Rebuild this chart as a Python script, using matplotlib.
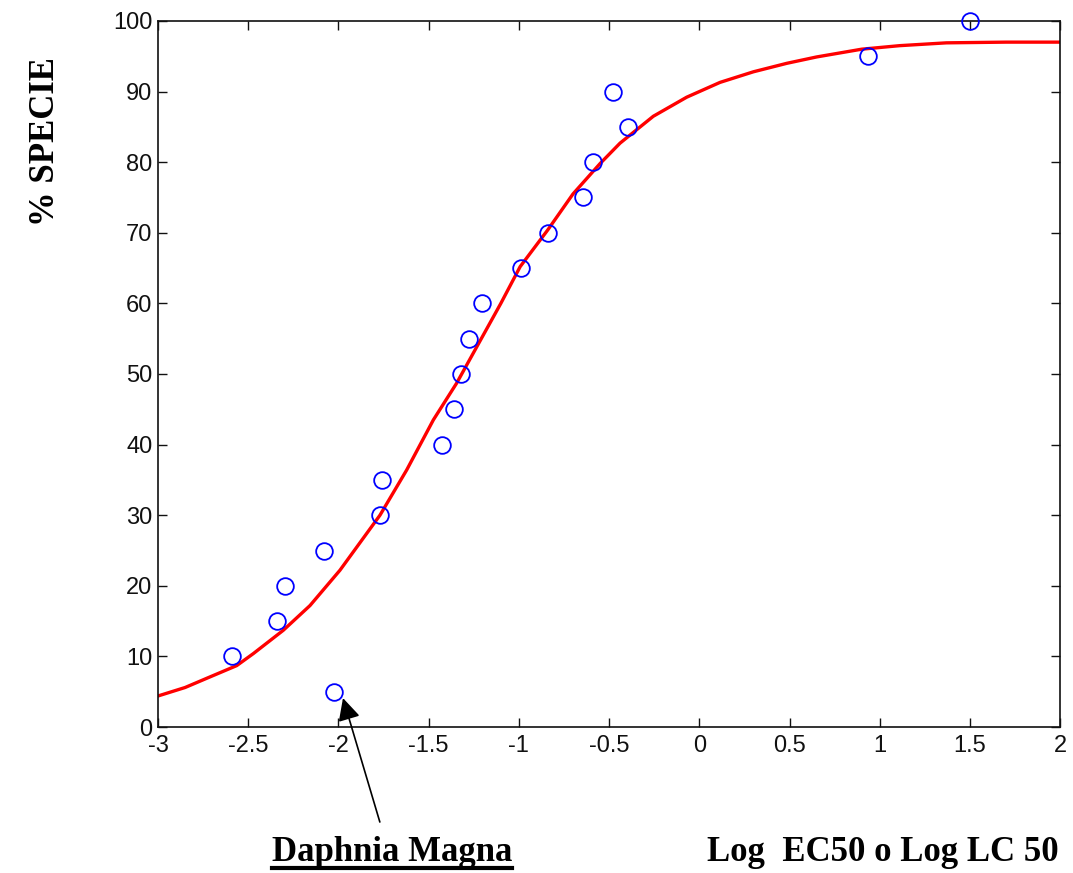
import matplotlib
matplotlib.use('Agg')
import matplotlib.pyplot as plt
import numpy as np

# Dati osservati (log EC50 / LC50 e % specie)
log_ec = [-2.592, -2.023, -2.342, -2.296, -2.08, -1.77, -1.758, -1.427, -1.357,
          -1.322, -1.274, -1.206, -0.988, -0.84, -0.644, -0.587, -0.393, -0.476,
          0.937, 1.501]
perc = [10, 5, 15, 20, 25, 30, 35, 40, 45, 50, 55, 60, 65, 70, 75, 80, 85, 90,
        95, 100]

# Curva adattata
curva_x = [-3.0, -2.85, -2.712, -2.564, -2.472, -2.306, -2.158, -1.992, -1.844,
           -1.77, -1.622, -1.474, -1.345, -1.1, -0.993, -0.84, -0.7, -0.55,
           -0.439, -0.255, -0.07, 0.115, 0.30, 0.485, 0.65, 0.9, 1.11, 1.37,
           1.7, 2.0]
curva_y = [4.4, 5.6, 7.1, 8.7, 10.4, 13.7, 17.2, 22.2, 27.4,
           30.0, 36.4, 43.5, 48.7, 60.0, 65.2, 70.4, 75.5, 79.8,
           82.7, 86.5, 89.2, 91.3, 92.8, 94.0, 94.9, 96.0, 96.5, 96.9,
           97.0, 97.0]

xticks = [-3, -2.5, -2, -1.5, -1, -0.5, 0, 0.5, 1, 1.5, 2]
xtick_labels = ['-3', '-2.5', '-2', '-1.5', '-1', '-0.5', '0', '0.5', '1', '1.5', '2']
yticks = list(range(0, 101, 10))

fig = plt.figure(figsize=(10.73, 8.73), dpi=100)
ax = fig.add_axes([0.1473, 0.1672, 0.8407, 0.8088])

ax.plot(curva_x, curva_y, color='#ff0000', lw=2.4, zorder=2)
ax.plot(log_ec, perc, 'o', mfc='none', mec='#0000ff', ms=12, mew=1.3, zorder=3,
        clip_on=False)

ax.set_xlim(-3, 2)
ax.set_ylim(0, 100)
ax.set_xticks(xticks)
ax.set_xticklabels(xtick_labels)
ax.set_yticks(yticks)
ax.tick_params(direction='in', length=6.5, width=1, top=True, right=True,
               labelsize=17, pad=4, colors='#111111')
ax.tick_params(axis='x', pad=6)
for lab in ax.get_xticklabels() + ax.get_yticklabels():
    lab.set_family('Liberation Sans')
for s in ax.spines.values():
    s.set_linewidth(1.2)
    s.set_color('#111111')

fig.text(0.042, 0.838, '% SPECIE', rotation=90, ha='center', va='center',
         fontsize=25, fontweight='bold', family='Liberation Serif')

# annotazione Daphnia Magna
t = fig.text(0.3655, 0.0135, 'Daphnia Magna', ha='center', va='baseline',
             fontsize=25, fontweight='bold', family='Liberation Serif')
fig.text(0.9865, 0.0135, 'Log  EC50 o Log LC 50', ha='right', va='baseline',
         fontsize=25, fontweight='bold', family='Liberation Serif')
fig.canvas.draw()
bb = t.get_window_extent().transformed(fig.transFigure.inverted())
fig.add_artist(plt.Line2D([bb.x0, bb.x1], [0.0055, 0.0055], color='black', lw=3,
                          transform=fig.transFigure))

ax.annotate('', xy=(-1.975, 4.1), xycoords='data',
            xytext=(0.354, 0.0584), textcoords='figure fraction',
            arrowprops=dict(arrowstyle='-|>', color='black', lw=1.2,
                            mutation_scale=34, shrinkA=0, shrinkB=0),
            annotation_clip=False)

fig.savefig('out.png', dpi=100)
